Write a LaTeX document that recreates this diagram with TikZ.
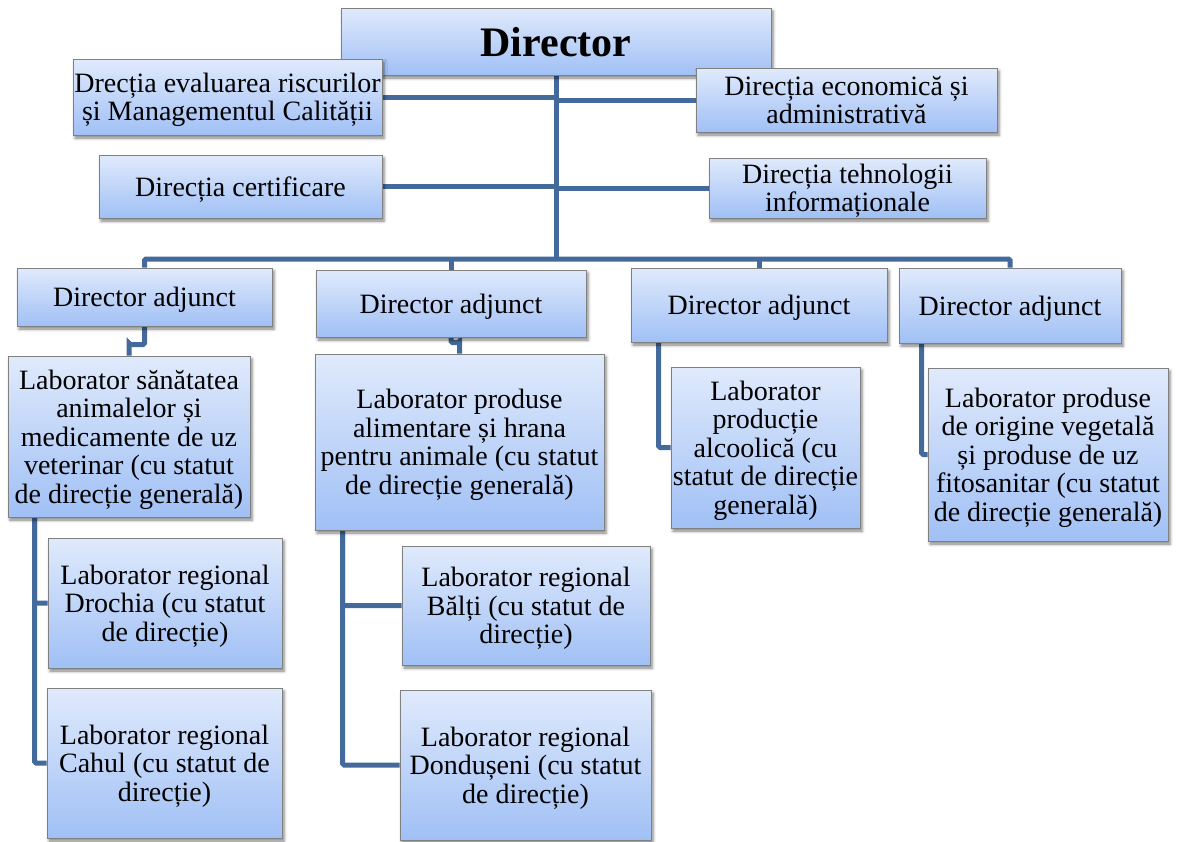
\documentclass[tikz,border=0pt]{standalone}
\usepackage{fontspec}
\setmainfont{Liberation Serif}
\usetikzlibrary{calc,shadows.blur,backgrounds}
\definecolor{lineblue}{RGB}{68,106,156}
\definecolor{boxtop}{RGB}{224,234,252}
\definecolor{boxbot}{RGB}{160,192,245}
\definecolor{boxline}{RGB}{128,128,128}
\begin{document}
\begin{tikzpicture}[x=1pt,y=-1pt,
  box/.style={draw=boxline, line width=0.8pt, top color=boxtop, bottom color=boxbot,
    rectangle, inner sep=0pt, align=center, text depth=0pt, font=\fontsize{28}{28.5}\selectfont,
    blur shadow={shadow xshift=2pt, shadow yshift=-3pt, shadow blur radius=3pt, shadow opacity=50}},
  link/.style={draw=lineblue, line width=5pt, rounded corners=1.5pt}]
\useasboundingbox (0,0) rectangle (1180,841);
% top
\node[box, minimum width=430pt, minimum height=67pt, font=\fontsize{42}{44}\selectfont\bfseries] (dir) at (556,41.5) {Director};
\node[box, minimum width=309pt, minimum height=76pt] (evr) at (227.5,97) {Drecția evaluarea riscurilor\\și Managementul Calității};
\node[box, minimum width=301pt, minimum height=64pt] (eco) at (846.5,100) {Direcția economică și\\administrativă};
\node[box, minimum width=283pt, minimum height=63pt] (cert) at (240.5,186.5) {Direcția certificare};
\node[box, minimum width=277pt, minimum height=60pt] (teh) at (847.5,188) {Direcția tehnologii\\informaționale};
% deputies
\node[box, minimum width=255pt, minimum height=58pt] (adj1) at (144.5,297) {Director adjunct};
\node[box, minimum width=270pt, minimum height=67pt] (adj2) at (451,303.5) {Director adjunct};
\node[box, minimum width=256pt, minimum height=74pt] (adj3) at (759,305) {Director adjunct};
\node[box, minimum width=222pt, minimum height=75pt] (adj4) at (1010,305.5) {Director adjunct};
% labs
\node[box, minimum width=242pt, minimum height=161pt] (lab1) at (129,436.5) {Laborator sănătatea\\animalelor și\\medicamente de uz\\veterinar (cu statut\\de direcție generală)};
\node[box, minimum width=289pt, minimum height=176pt] (lab2) at (459.5,442) {Laborator produse\\alimentare și hrana\\pentru animale (cu statut\\de direcție generală)};
\node[box, minimum width=189pt, minimum height=161pt] (lab3) at (765.5,447.5) {Laborator\\producție\\alcoolică (cu\\statut de direcție\\generală)};
\node[box, minimum width=240pt, minimum height=173pt] (lab4) at (1048,454.5) {Laborator produse\\de origine vegetală\\și produse de uz\\fitosanitar (cu statut\\de direcție generală)};
% regional
\node[box, minimum width=234pt, minimum height=130pt] (dro) at (165,603) {Laborator regional\\Drochia (cu statut\\de direcție)};
\node[box, minimum width=235pt, minimum height=150pt] (cah) at (164.5,763) {Laborator regional\\Cahul (cu statut de\\direcție)};
\node[box, minimum width=248pt, minimum height=119pt] (bal) at (526,605.5) {Laborator regional\\Bălți (cu statut de\\direcție)};
\node[box, minimum width=251pt, minimum height=150pt] (don) at (525.5,765) {Laborator regional\\Dondușeni (cu statut\\de direcție)};
\coordinate (bus) at (556,259);
\begin{pgfonlayer}{background}
\draw[link] (dir.south) -- (bus);
\draw[link] (evr.east) -- (evr.east -| dir.south);
\draw[link] (eco.west) -- (eco.west -| dir.south);
\draw[link] (cert.east) -- (cert.east -| dir.south);
\draw[link] (teh.west) -- (teh.west -| dir.south);
\draw[link] (adj1.north) -- (adj1.north |- bus) -- (adj4.north |- bus) -- (adj4.north);
\draw[link] (adj2.north) -- (adj2.north |- bus);
\draw[link] (adj3.north) -- (adj3.north |- bus);
\draw[link] (adj1.south) |- ($(lab1.north)+(0,-11)$) -| (lab1.north);
\draw[link] (adj2.south) |- ($(lab2.north)+(0,-11)$) -| (lab2.north);
\draw[link] ($(adj3.south west)+(28,0)$) |- (lab3.west);
\draw[link] ($(adj4.south west)+(23,0)$) |- (lab4.west);
\draw[link] ($(lab1.south west)+(27,0)$) |- (dro.west);
\draw[link] ($(lab1.south west)+(27,0)$) |- (cah.west);
\draw[link] ($(lab2.south west)+(28,0)$) |- (bal.west);
\draw[link] ($(lab2.south west)+(28,0)$) |- (don.west);
\end{pgfonlayer}
\end{tikzpicture}
\end{document}
